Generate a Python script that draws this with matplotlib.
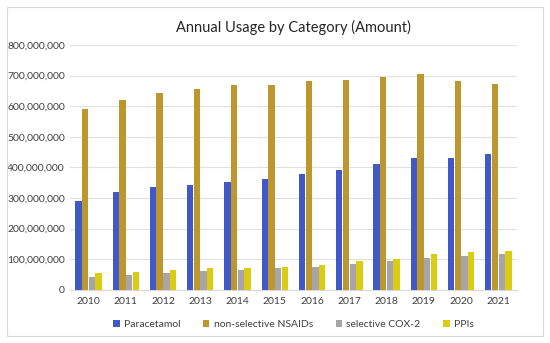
import numpy as np
import matplotlib
matplotlib.use("Agg")
from matplotlib import pyplot as plt
from matplotlib.patches import Rectangle
from matplotlib.ticker import FuncFormatter

plt.rcParams['font.family'] = ['Lato', 'DejaVu Sans']

# data
years = ['2010', '2011', '2012', '2013', '2014', '2015',
         '2016', '2017', '2018', '2019', '2020', '2021']
paracetamol = [290e6, 318e6, 337e6, 341e6, 353e6, 363e6,
               378e6, 393e6, 410e6, 430e6, 430e6, 443e6]
nsaids = [590e6, 621e6, 642e6, 655e6, 670e6, 670e6,
          681e6, 687e6, 695e6, 704e6, 681e6, 671e6]
cox2 = [42e6, 48e6, 55e6, 60e6, 66e6, 72e6,
        75e6, 84e6, 95e6, 104e6, 112e6, 116e6]
ppis = [55e6, 58e6, 66e6, 70e6, 72e6, 75e6,
        82e6, 95e6, 102e6, 117e6, 122e6, 126e6]

series = [('Paracetamol', paracetamol, '#4159C6'),
          ('non-selective NSAIDs', nsaids, '#BC962E'),
          ('selective COX-2', cox2, '#A9A4A8'),
          ('PPIs', ppis, '#D9CC12')]

fig = plt.figure(figsize=(5.5, 3.43), dpi=100)
fig.patches.append(Rectangle((7 / 550, 7 / 343), 536 / 550, 329 / 343,
                             transform=fig.transFigure, fill=False,
                             edgecolor='#D9D9D9', linewidth=0.8))
ax = fig.add_axes([0.127, 0.155, 0.813, 0.714])

x = np.arange(len(years))
w = 0.17
for i, (name, vals, col) in enumerate(series):
    ax.bar(x + (i - 1.5) * (w + 0.01), vals, w, color=col, label=name, zorder=3)

ax.set_ylim(0, 800e6)
ax.set_xlim(-0.5, len(years) - 0.5)
ax.set_yticks(np.arange(0, 800e6 + 1, 100e6))
ax.yaxis.set_major_formatter(FuncFormatter(lambda v, p: f'{int(v):,}'))
ax.set_xticks(x)
ax.set_xticklabels(years)
ax.grid(axis='y', color='#E0E0E0', linewidth=0.8, zorder=0)
for s in ax.spines.values():
    s.set_visible(False)
ax.spines['bottom'].set_visible(True)
ax.spines['bottom'].set_color('#D9D9D9')
ax.tick_params(axis='both', length=0, labelsize=7.5, labelcolor='#404040')
ax.tick_params(axis='x', pad=5)

ax.set_title('Annual Usage by Category (Amount)', fontsize=10.5, color='#262626', pad=9)
ax.legend(loc='upper center', bbox_to_anchor=(0.5, -0.085), ncol=4, frameon=False,
          fontsize=7.5, handlelength=0.6, handleheight=0.6, columnspacing=2.2,
          handletextpad=0.4, labelcolor='#404040')

fig.savefig('out.png', dpi=100)
